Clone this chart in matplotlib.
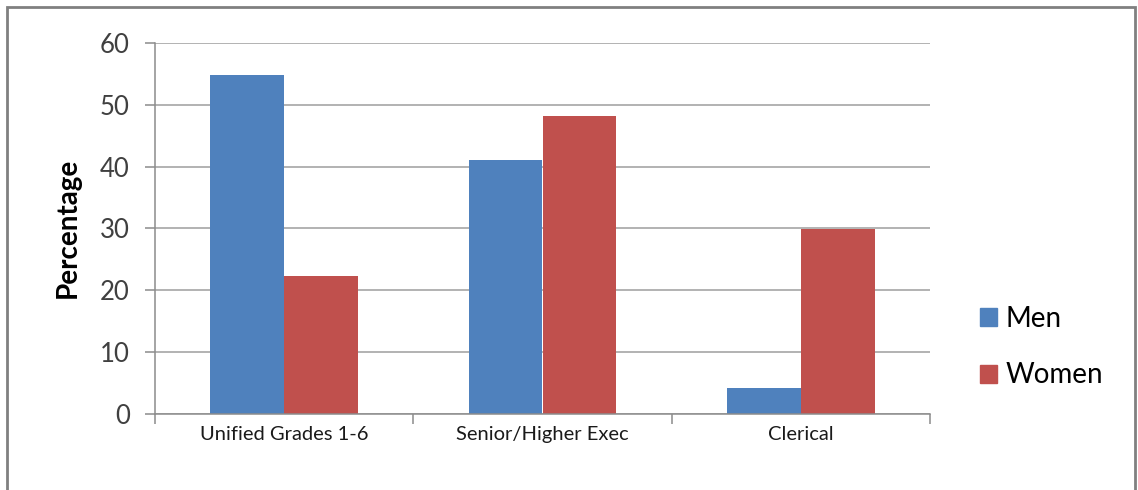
import matplotlib.pyplot as plt
from matplotlib.patches import Rectangle, Patch
import numpy as np

# percentage of each group by grade
categories = ['Unified Grades 1-6', 'Senior/Higher Exec', 'Clerical']
men = [54.8, 41.1, 4.2]
women = [22.3, 48.2, 29.9]
series_names = ['Men', 'Women']
yticks = [0, 10, 20, 30, 40, 50, 60]

blue = '#4F81BD'
red = '#C0504D'
grid_col = '#A6A6A6'
axis_col = '#8C8C8C'

plt.rcParams['font.family'] = ['Lato', 'DejaVu Sans']

W, H = 1138, 490
fig = plt.figure(figsize=(W / 100, H / 100), dpi=100)
ax = fig.add_axes([155 / W, (H - 413.7) / H, (930 - 155) / W, (413.7 - 43) / H])

x = np.arange(len(categories))
bw = 1 / 3.5
ax.bar(x - bw / 2, men, bw, color=blue, zorder=3, label=series_names[0])
ax.bar(x + bw / 2, women, bw, color=red, zorder=3, label=series_names[1])

ax.set_xlim(-0.5, len(categories) - 0.5)
ax.set_ylim(0, 60)

# y axis
ax.set_yticks(yticks)
ax.set_yticklabels([str(v) for v in yticks], fontsize=18.5, color='#404040')
ax.tick_params(axis='y', length=7.2, width=1.1, color=axis_col, pad=11)
ax.yaxis.grid(True, color=grid_col, linewidth=1.2, zorder=0)

# x axis: ticks on category boundaries, labels on centres
ax.set_xticks(np.arange(-0.5, len(categories), 1.0))
ax.set_xticklabels([])
ax.set_xticks(x, minor=True)
ax.set_xticklabels(categories, minor=True, fontsize=14.5, color='#1a1a1a')
ax.tick_params(axis='x', which='major', length=7.2, width=1.1, color=axis_col)
ax.tick_params(axis='x', which='minor', length=0, pad=9)

for side in ['top', 'right']:
    ax.spines[side].set_visible(False)
for side in ['left', 'bottom']:
    ax.spines[side].set_color(axis_col)
    ax.spines[side].set_linewidth(1.1)
    ax.spines[side].set_zorder(4)

ax.set_ylabel('Percentage', fontsize=20, fontweight='bold', labelpad=14)

handles = [Patch(color=blue), Patch(color=red)]
fig.legend(handles, series_names, loc='center left',
           bbox_to_anchor=(955 / W, 1 - 347 / H), frameon=False,
           fontsize=20, handlelength=0.62, handleheight=0.62,
           handletextpad=0.3, labelspacing=1.1)

# outer chart frame
fig.patches.append(Rectangle((7 / W, -0.1), (1135 - 7) / W, 1.1 - 7 / H,
                             transform=fig.transFigure, fill=False,
                             edgecolor='#808080', linewidth=2))

fig.savefig('out.png', dpi=100)
